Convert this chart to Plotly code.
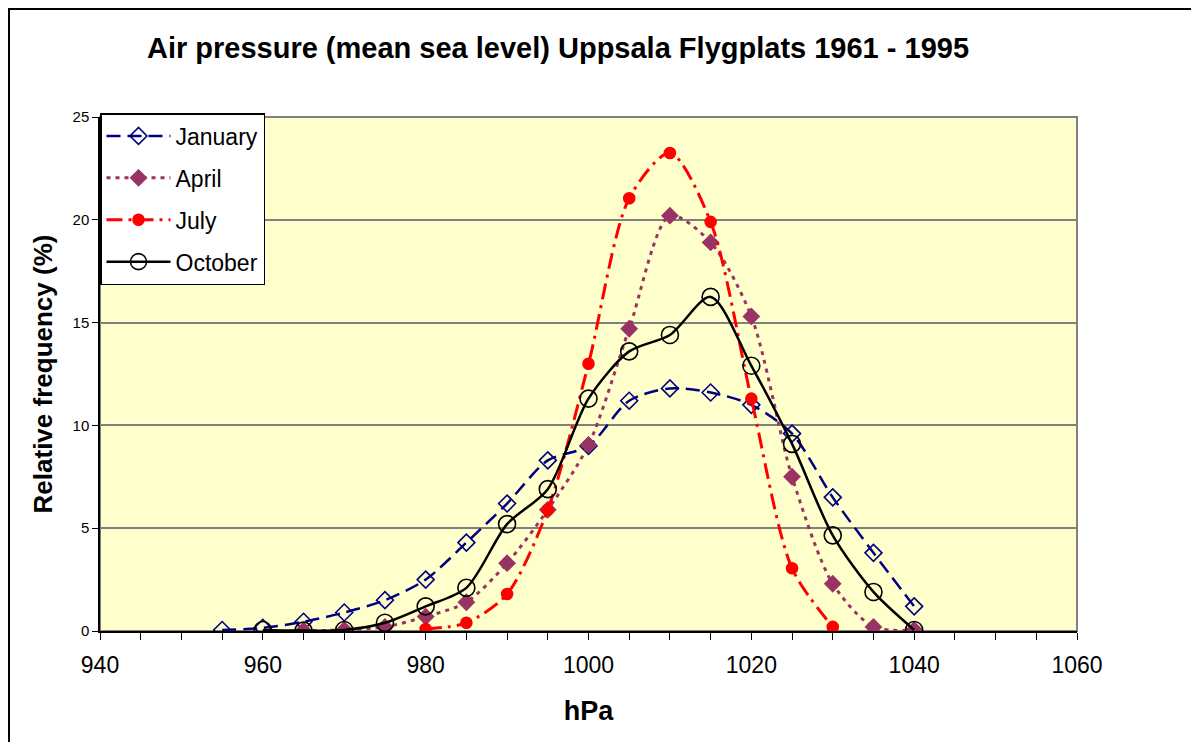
import plotly.graph_objects as go

# Pressure classes (hPa) and relative frequencies (%) per month.
jan_hpa = [955, 960, 965, 970, 975, 980, 985, 990, 995, 1000, 1005, 1010, 1015, 1020, 1025, 1030, 1035, 1040]
jan_freq = [0.05, 0.15, 0.45, 0.9, 1.5, 2.5, 4.3, 6.2, 8.3, 9.0, 11.2, 11.8, 11.6, 11.0, 9.6, 6.5, 3.8, 1.2]

apr_hpa = [965, 970, 975, 980, 985, 990, 995, 1000, 1005, 1010, 1015, 1020, 1025, 1030, 1035, 1040]
apr_freq = [0.02, 0.05, 0.2, 0.7, 1.4, 3.3, 5.9, 9.05, 14.7, 20.2, 18.9, 15.3, 7.5, 2.3, 0.2, 0.05]

jul_hpa = [980, 985, 990, 995, 1000, 1005, 1010, 1015, 1020, 1025, 1030]
jul_freq = [0.1, 0.4, 1.8, 5.9, 13.0, 21.05, 23.25, 19.9, 11.3, 3.05, 0.2]

oct_hpa = [960, 965, 970, 975, 980, 985, 990, 995, 1000, 1005, 1010, 1015, 1020, 1025, 1030, 1035, 1040]
oct_freq = [0.05, 0.02, 0.05, 0.4, 1.2, 2.1, 5.2, 6.9, 11.3, 13.6, 14.4, 16.25, 12.9, 9.1, 4.65, 1.9, 0.05]

x_ticks = [940, 960, 980, 1000, 1020, 1040, 1060]
y_ticks = [0, 5, 10, 15, 20, 25]

FONT = 'Liberation Sans, Arial, sans-serif'

# The page body has an 8px margin, so the figure is 8px smaller than the window.
W, H = 1191, 734
ML, MR, MT, MB = 92, 122, 109, 111
PW, PH = W - ML - MR, H - MT - MB


def series(name, x, y, color, dash, width, symbol, size, group):
    # One smoothed line with markers, as in the original spreadsheet chart.
    return go.Scatter(
        x=x,
        y=y,
        name=name,
        mode='lines+markers',
        line=dict(color=color, dash=dash, width=width, shape='spline', smoothing=0.8),
        marker=dict(symbol=symbol, size=size, color=color,
                    line=dict(color=color, width=1.6)),
        legendgroup=group,
    )


traces = [
    series('January', jan_hpa, jan_freq, '#000080', '14px,7px', 2.5, 'diamond-open', 13, 'a'),
    series('April', apr_hpa, apr_freq, '#993366', '4px,5px', 3, 'diamond', 12, 'b'),
    series('July', jul_hpa, jul_freq, '#FF0000', '16px,6px,3px,6px', 3, 'circle', 11, 'c'),
    series('October', oct_hpa, oct_freq, '#000000', 'solid', 2.5, 'circle-open', 17, 'd'),
]

layout = dict(
    width=W,
    height=H,
    paper_bgcolor='white',
    plot_bgcolor='#FFFFCC',
    margin=dict(l=ML, r=MR, t=MT, b=MB, pad=0),
    font=dict(family=FONT, size=20, color='black'),
    title=dict(
        text='<b>Air pressure (mean sea level) Uppsala Flygplats 1961 - 1995</b>',
        x=550 / W, xanchor='center',
        y=1 - 40 / H, yanchor='middle',
        font=dict(family=FONT, size=29, color='black'),
    ),
    showlegend=True,
    legend=dict(
        x=0, y=1 + 4 / PH, xanchor='left', yanchor='top',
        bgcolor='white', bordercolor='black', borderwidth=1.5,
        font=dict(family=FONT, size=23, color='black'),
        traceorder='grouped', tracegroupgap=9,
        itemwidth=64,
    ),
    xaxis=dict(
        range=[940, 1060],
        tickvals=x_ticks,
        ticks='outside', ticklen=7, tickcolor='black', tickwidth=1,
        minor=dict(dtick=5, ticks='outside', ticklen=7, tickcolor='black', showgrid=False),
        showline=True, linecolor='black', linewidth=1.5,
        showgrid=False, zeroline=False,
        tickfont=dict(family=FONT, size=23, color='black'),
        ticklabelstandoff=6,
        title=dict(text='<b>hPa</b>', font=dict(family=FONT, size=27, color='black'), standoff=24),
        fixedrange=True,
    ),
    yaxis=dict(
        range=[0, 25],
        tickvals=y_ticks,
        ticks='outside', ticklen=6, tickcolor='black', tickwidth=1,
        showline=True, linecolor='black', linewidth=1.5,
        showgrid=True, gridcolor='#808080', gridwidth=1.5,
        zeroline=False,
        tickfont=dict(family=FONT, size=15, color='black'),
        title=dict(text='<b>Relative frequency (%)</b>', font=dict(family=FONT, size=26, color='black'), standoff=12),
        fixedrange=True,
    ),
    shapes=[
        # Grey frame round the plot area.
        dict(type='rect', xref='paper', yref='paper', x0=0, y0=0, x1=1, y1=1,
             line=dict(color='#808080', width=2), layer='between'),
        # Thin black frame round the whole chart.
        dict(type='rect', xref='paper', yref='paper',
             x0=(1 - ML) / PW, x1=(W + 10 - ML) / PW,
             y0=(PH + MT - H - 20) / PH, y1=(PH + MT - 1) / PH,
             line=dict(color='black', width=2), layer='above'),
    ],
)

fig = go.Figure(data=traces, layout=layout)
fig.write_html('out.html')
